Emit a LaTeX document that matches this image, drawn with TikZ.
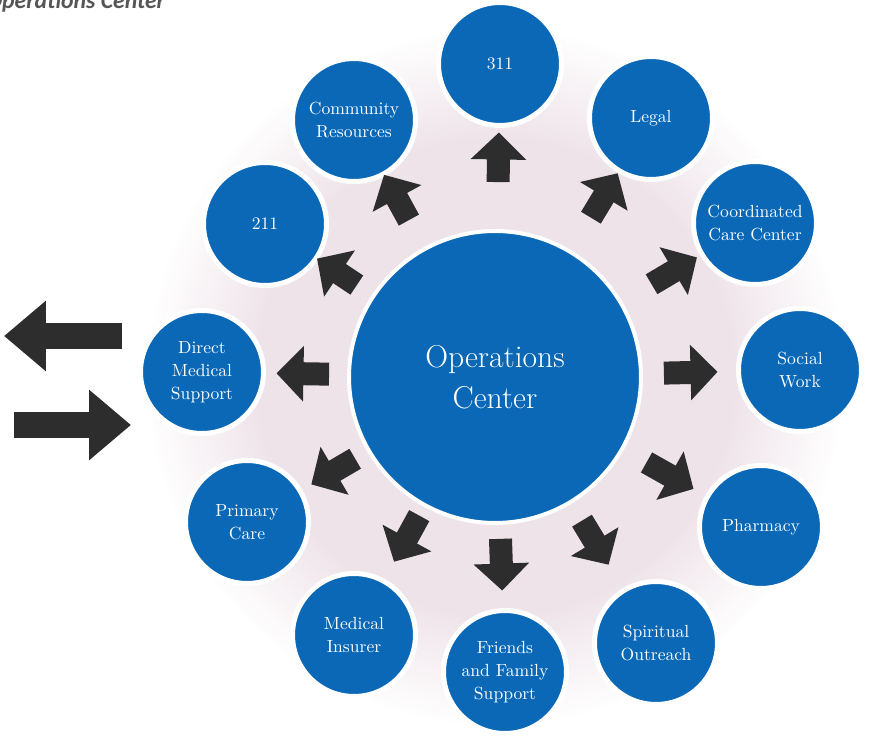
\documentclass[tikz,border=0pt]{standalone}
\usepackage{fontspec}
\newfontfamily\titlefont{Carlito}
\usetikzlibrary{arrows.meta}
\definecolor{opsblue}{RGB}{10,104,182}
\definecolor{arrowgray}{RGB}{45,45,45}
\definecolor{glowpink}{RGB}{238,227,233}
\definecolor{titlegray}{RGB}{85,85,85}
\pgfdeclareradialshading{glow}{\pgfpoint{0cm}{0cm}}{color(0bp)=(glowpink); color(17bp)=(glowpink); color(25bp)=(white); color(50bp)=(white)}
\begin{document}
\begin{tikzpicture}[x=0.02cm, y=-0.02cm,
  hub/.style={circle, fill=opsblue, draw=white, line width=0.08cm, minimum size=5.84cm, inner sep=0pt, outer sep=0pt, text=white, align=center, font=\fontsize{18}{23}\selectfont},
  service/.style={circle, fill=opsblue, draw=white, line width=0.1cm, minimum size=2.46cm, inner sep=0pt, outer sep=0pt, text=white, align=center, font=\fontsize{10}{13}\selectfont},
  spoke/.style={draw=arrowgray, line width=0.46cm, -{Triangle[length=0.54cm, width=1.08cm]}},
  sidearrow/.style={draw=arrowgray, line width=0.52cm, -{Triangle[length=0.84cm, width=1.36cm]}}]
\useasboundingbox (0,0) rectangle (870,736);
\clip (0,0) rectangle (870,736);
% Title (cut off at the top left)
\node[anchor=base west, inner sep=0pt, text=titlegray, font=\titlefont\bfseries\itshape\fontsize{13.5}{16}\selectfont] (title) at (-14,9) {Operations Center};
% Soft glow behind the ring
\shade[shading=glow] (495,377) circle (350);
% Center
\node[hub] (ops) at (495,377) {Operations\\Center};
% Outer ring (12 services)
\node[service] (n311) at (500,64) {311};
\node[service] (legal) at (651,118) {Legal};
\node[service] (ccc) at (755,223) {Coordinated\\Care Center};
\node[service] (social) at (800,370) {Social\\Work};
\node[service] (pharmacy) at (761,527) {Pharmacy};
\node[service] (spiritual) at (656,643) {Spiritual\\Outreach};
\node[service] (friends) at (505,672) {Friends\\and Family\\Support};
\node[service] (insurer) at (354,635) {Medical\\Insurer};
\node[service] (primary) at (247,522) {Primary\\Care};
\node[service] (direct) at (202,372) {Direct\\Medical\\Support};
\node[service] (n211) at (265,224) {211};
\node[service] (community) at (354,120) {Community\\Resources};
% Arrows from the center out to each service
\draw[spoke, shorten <=0.98cm, shorten >=0.14cm] (ops) -- (n311);
\draw[spoke, shorten <=0.80cm, shorten >=0.06cm] (ops) -- (legal);
\draw[spoke, shorten <=0.72cm, shorten >=0.12cm] (ops) -- (ccc);
\draw[spoke, shorten <=0.46cm, shorten >=0.42cm] (ops) -- (social);
\draw[spoke, shorten <=0.56cm, shorten >=0.32cm] (ops) -- (pharmacy);
\draw[spoke, shorten <=0.44cm, shorten >=0.60cm] (ops) -- (spiritual);
\draw[spoke, shorten <=0.32cm, shorten >=0.40cm] (ops) -- (friends);
\draw[spoke, shorten <=0.24cm, shorten >=0.44cm] (ops) -- (insurer);
\draw[spoke, shorten <=0.32cm, shorten >=0.26cm] (ops) -- (primary);
\draw[spoke, shorten <=0.40cm, shorten >=0.26cm] (ops) -- (direct);
\draw[spoke, shorten <=0.40cm, shorten >=0.02cm] (ops) -- (n211);
\draw[spoke, shorten <=0.66cm, shorten >=0.02cm] (ops) -- (community);
% Arrows in and out at the left
\coordinate (outstart) at (122,336);
\coordinate (outend) at (4,336);
\coordinate (instart) at (14,425);
\coordinate (inend) at (131,425);
\draw[sidearrow] (outstart) -- (outend);
\draw[sidearrow] (instart) -- (inend);
\end{tikzpicture}
\end{document}
